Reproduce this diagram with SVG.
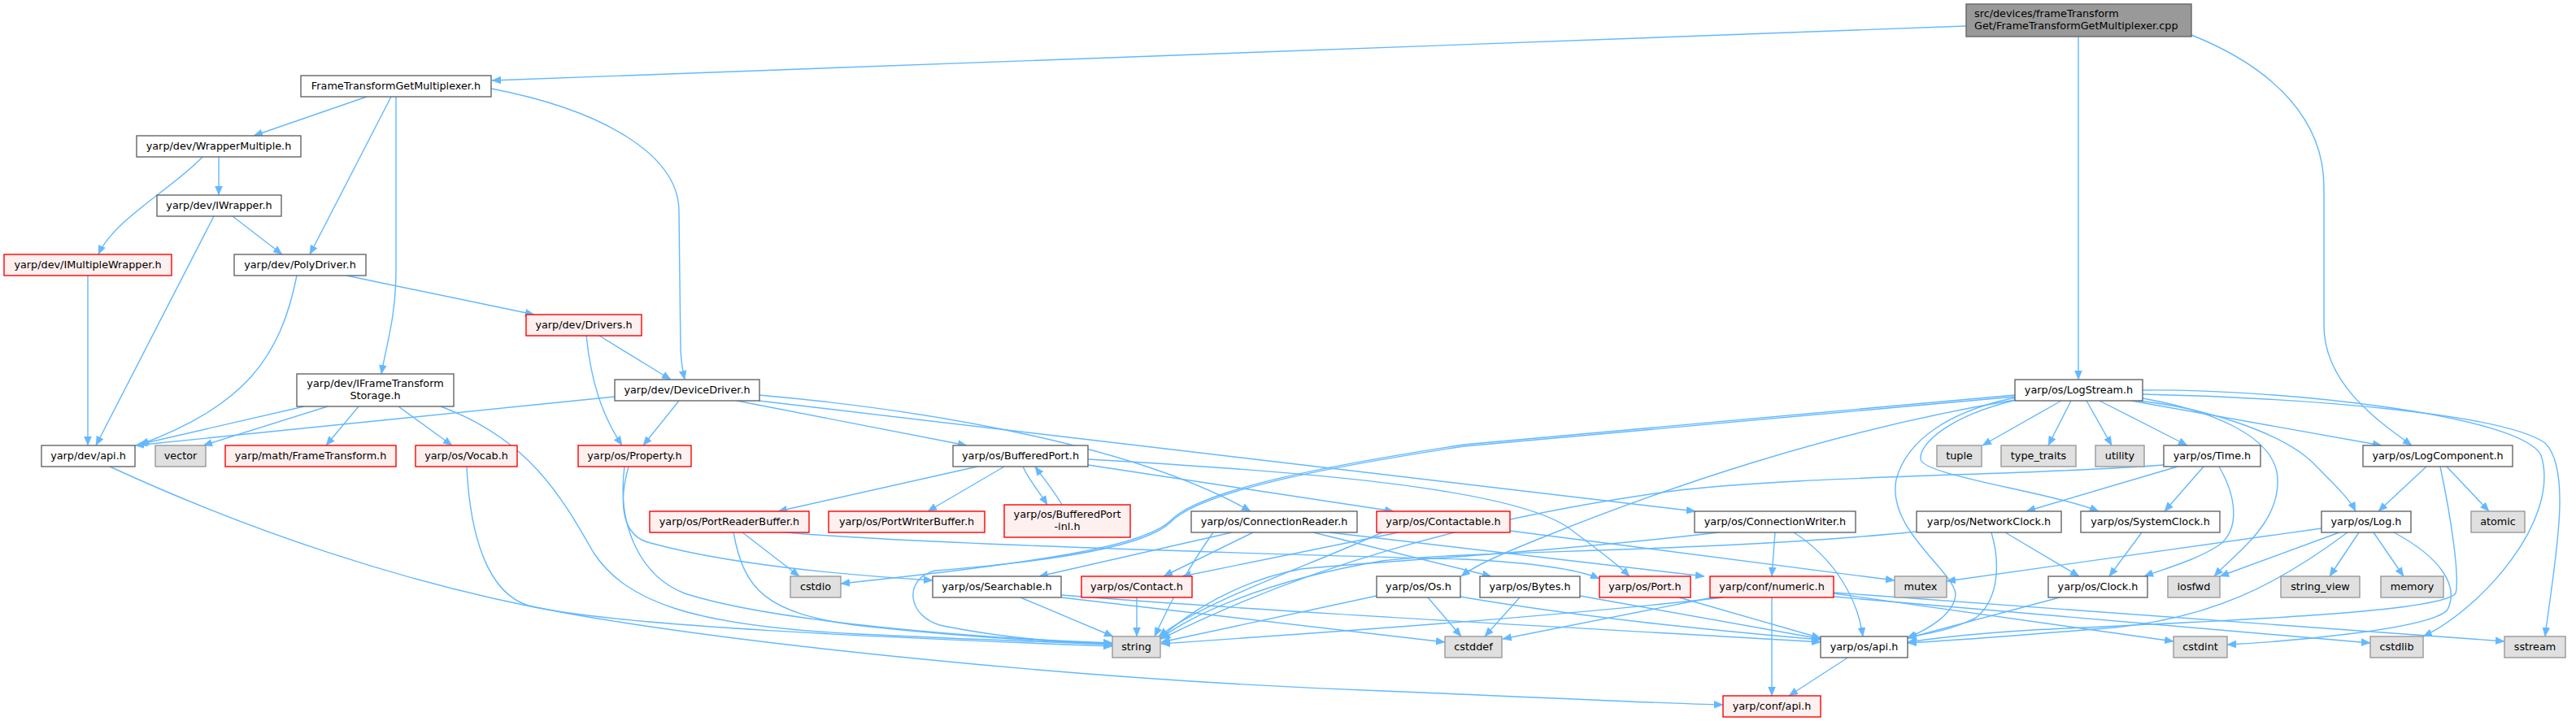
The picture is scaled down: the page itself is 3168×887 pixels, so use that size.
<svg xmlns="http://www.w3.org/2000/svg" width="3168" height="887" viewBox="0 0 3168 887">
<style>
.e{fill:none;stroke:#63b8ff;stroke-width:1.4;marker-end:url(#a)}
.w rect{fill:#ffffff;stroke:#666666;stroke-width:1.4}
.r rect{fill:#fff0f0;stroke:#ff0000;stroke-width:1.4}
.g rect{fill:#e0e0e0;stroke:#999999;stroke-width:1.4}
.root rect{fill:#999999;stroke:#666666;stroke-width:1.4}
text{font-family:"DejaVu Sans","Liberation Sans",sans-serif;font-size:12.8px;fill:#000000;text-anchor:middle}
.root text{text-anchor:start}
</style>
<defs>
<marker id="a" markerUnits="userSpaceOnUse" markerWidth="12" markerHeight="10" refX="11" refY="5" orient="auto">
<path d="M0,0.5 L11,5 L0,9.5 Z" fill="#63b8ff" stroke="#63b8ff" stroke-width="0.5"/>
</marker>
</defs>
<rect width="3168" height="887" fill="#ffffff"/>
<g id="edges">
<path class="e" d="M2418,32 L605,99"/>
<path class="e" d="M2556,45 L2556,467"/>
<path class="e" d="M2695,43 C2800,85 2858,150 2858,230 L2858,400 C2858,470 2920,515 2966,548"/>
<path class="e" d="M451,119 L312,167"/>
<path class="e" d="M481,119 L381,313"/>
<path class="e" d="M487,119 L487,330 C487,390 476,420 469,460"/>
<path class="e" d="M604,109 C740,135 835,190 835,260 L837,430 C838,450 840,458 842,467"/>
<path class="e" d="M269,193 L269,240"/>
<path class="e" d="M249,193 C215,230 140,270 121,313"/>
<path class="e" d="M286,266 L347,313"/>
<path class="e" d="M263,266 L118,548"/>
<path class="e" d="M108,339 L108,548"/>
<path class="e" d="M426,339 L657,387"/>
<path class="e" d="M365,339 C345,440 300,500 172,547"/>
<path class="e" d="M737,413 L825,467"/>
<path class="e" d="M721,413 C727,470 740,510 765,548"/>
<path class="e" d="M374,500 L170,547"/>
<path class="e" d="M403,500 L250,548"/>
<path class="e" d="M441,500 L401,548"/>
<path class="e" d="M490,500 L556,548"/>
<path class="e" d="M542,500 C650,540 690,610 730,680 C770,740 850,770 1056,780 C1200,787 1300,790 1368,793"/>
<path class="e" d="M756,488 L166,548"/>
<path class="e" d="M835,493 L791,548"/>
<path class="e" d="M906,493 L1189,548"/>
<path class="e" d="M933,486 C1150,505 1400,550 1538,629"/>
<path class="e" d="M933,493 L2085,629"/>
<path class="e" d="M574,574 C578,660 600,730 650,745 C750,770 1100,785 1368,795"/>
<path class="e" d="M773,574 C760,620 765,660 800,668 C880,690 1000,705 1147,714"/>
<path class="e" d="M768,574 C758,650 790,710 842,730 C950,765 1200,785 1368,791"/>
<path class="e" d="M135,574 C300,650 500,720 700,755 C900,790 1300,835 1700,850 C1900,858 2050,866 2119,867"/>
<path class="e" d="M1202,574 L957,629"/>
<path class="e" d="M1235,574 L1141,629"/>
<path class="e" d="M1258,574 C1265,590 1278,605 1288,621"/>
<path class="e" d="M1306,621 C1297,605 1283,588 1273,574"/>
<path class="e" d="M1338,565 C1600,580 1860,600 1930,650 C1970,680 1990,695 2004,709"/>
<path class="e" d="M1338,572 L1714,629"/>
<path class="e" d="M913,655 L983,709"/>
<path class="e" d="M902,655 C915,725 940,755 1060,770 C1200,785 1300,790 1368,792"/>
<path class="e" d="M956,654 C1100,668 1500,680 1800,688 C1880,692 1940,700 1967,712"/>
<path class="e" d="M1515,655 L1278,709"/>
<path class="e" d="M1541,655 L1431,709"/>
<path class="e" d="M1615,655 L1834,709"/>
<path class="e" d="M1635,655 L2096,709"/>
<path class="e" d="M1492,655 C1460,700 1440,740 1420,783"/>
<path class="e" d="M1720,655 L1454,709"/>
<path class="e" d="M1857,653 L2330,714"/>
<path class="e" d="M1700,655 C1600,700 1480,740 1425,783"/>
<path class="e" d="M2478,486 L1800,547 C1650,570 1480,600 1440,640 C1410,670 1300,690 1034,718"/>
<path class="e" d="M2478,488 L1800,549 C1650,572 1480,602 1440,642 C1410,672 1300,690 1150,702 C1110,712 1115,760 1160,770 C1250,788 1320,790 1368,792"/>
<path class="e" d="M2478,492 C2250,530 2050,600 1900,660 C1850,680 1815,695 1797,709"/>
<path class="e" d="M2479,489 C2400,505 2345,540 2332,590 C2320,650 2400,700 2405,730 C2405,755 2370,775 2345,785"/>
<path class="e" d="M2484,491 C2400,510 2360,545 2362,565 C2365,585 2520,605 2581,629"/>
<path class="e" d="M2535,493 L2438,548"/>
<path class="e" d="M2547,493 L2519,548"/>
<path class="e" d="M2566,493 L2597,548"/>
<path class="e" d="M2582,493 L2690,548"/>
<path class="e" d="M2621,493 L2929,548"/>
<path class="e" d="M2629,493 C2700,500 2810,530 2850,575 C2875,600 2890,615 2897,629"/>
<path class="e" d="M2635,490 C2720,505 2790,535 2800,580 C2810,640 2750,680 2723,709"/>
<path class="e" d="M2635,480 C2800,478 3100,510 3125,560 C3150,640 3050,750 2980,783"/>
<path class="e" d="M2635,485 C2850,490 3080,510 3130,545 C3165,580 3140,700 3130,783"/>
<path class="e" d="M2678,574 L2492,629"/>
<path class="e" d="M2710,574 L2662,629"/>
<path class="e" d="M2729,574 C2750,610 2755,650 2730,670 C2700,690 2660,700 2637,709"/>
<path class="e" d="M2661,572 C2500,585 2200,585 2050,605 C1800,640 1600,700 1428,786"/>
<path class="e" d="M2984,574 L2925,629"/>
<path class="e" d="M3009,574 L3061,629"/>
<path class="e" d="M3001,574 C3015,640 3025,710 3020,730 C3000,755 2700,765 2500,775 C2420,780 2380,785 2346,790"/>
<path class="e" d="M2855,650 L2394,715"/>
<path class="e" d="M2877,655 L2730,709"/>
<path class="e" d="M2901,655 L2865,709"/>
<path class="e" d="M2919,655 L2956,709"/>
<path class="e" d="M2944,655 C3000,685 3025,720 3010,750 C2990,775 2800,790 2739,793"/>
<path class="e" d="M2887,655 C2800,720 2720,760 2600,772 C2480,782 2400,788 2346,791"/>
<path class="e" d="M2466,655 L2557,709"/>
<path class="e" d="M2449,655 C2462,700 2455,740 2430,760 C2400,775 2370,780 2346,784"/>
<path class="e" d="M2357,654 C2100,680 1800,677 1700,690 C1550,715 1460,760 1427,786"/>
<path class="e" d="M2634,655 L2594,709"/>
<path class="e" d="M2533,735 L2346,785"/>
<path class="e" d="M2183,655 L2179,709"/>
<path class="e" d="M2206,655 C2260,690 2285,740 2291,783"/>
<path class="e" d="M2114,655 C1900,680 1700,690 1600,700 C1520,715 1460,755 1427,785"/>
<path class="e" d="M2179,735 L2179,856"/>
<path class="e" d="M2255,730 L2673,789"/>
<path class="e" d="M2255,734 L2915,791"/>
<path class="e" d="M2255,729 L3080,789"/>
<path class="e" d="M2119,735 C1900,760 1600,780 1428,792"/>
<path class="e" d="M2106,735 L1848,786"/>
<path class="e" d="M1255,735 L1369,783"/>
<path class="e" d="M1305,735 L1777,790"/>
<path class="e" d="M1305,732 C1600,755 1900,770 2239,790"/>
<path class="e" d="M1398,735 L1398,783"/>
<path class="e" d="M1693,733 L1428,790"/>
<path class="e" d="M1756,735 L1797,783"/>
<path class="e" d="M1795,734 C1950,760 2100,775 2239,787"/>
<path class="e" d="M1869,735 L1826,783"/>
<path class="e" d="M1943,733 L2239,786"/>
<path class="e" d="M2065,735 L2239,785"/>
<path class="e" d="M2274,808 L2200,856"/>
</g>
<g id="n_root" class="root"><rect x="2418" y="5" width="277" height="40"/><text x="2428" y="21">src/devices/frameTransform</text><text x="2428" y="36">Get/FrameTransformGetMultiplexer.cpp</text></g>
<g id="n_ftgm" class="w"><rect x="370" y="93" width="234" height="26"/><text x="487" y="110">FrameTransformGetMultiplexer.h</text></g>
<g id="n_wrappermultiple" class="w"><rect x="168" y="167" width="202" height="26"/><text x="269" y="184">yarp/dev/WrapperMultiple.h</text></g>
<g id="n_iwrapper" class="w"><rect x="193" y="240" width="153" height="26"/><text x="269.5" y="257">yarp/dev/IWrapper.h</text></g>
<g id="n_imultiplewrapper" class="r"><rect x="5" y="313" width="206" height="26"/><text x="108" y="330">yarp/dev/IMultipleWrapper.h</text></g>
<g id="n_polydriver" class="w"><rect x="288" y="313" width="162" height="26"/><text x="369" y="330">yarp/dev/PolyDriver.h</text></g>
<g id="n_drivers" class="r"><rect x="647" y="387" width="142" height="26"/><text x="718" y="404">yarp/dev/Drivers.h</text></g>
<g id="n_iframetransformstorage" class="w"><rect x="365" y="460" width="193" height="40"/><text x="461.5" y="476">yarp/dev/IFrameTransform</text><text x="461.5" y="491">Storage.h</text></g>
<g id="n_devicedriver" class="w"><rect x="756" y="467" width="178" height="26"/><text x="845" y="484">yarp/dev/DeviceDriver.h</text></g>
<g id="n_devapi" class="w"><rect x="51" y="548" width="115" height="26"/><text x="108.5" y="565">yarp/dev/api.h</text></g>
<g id="n_vector" class="g"><rect x="191" y="548" width="62" height="26"/><text x="222" y="565">vector</text></g>
<g id="n_frametransform" class="r"><rect x="277" y="548" width="210" height="26"/><text x="382" y="565">yarp/math/FrameTransform.h</text></g>
<g id="n_vocab" class="r"><rect x="511" y="548" width="125" height="26"/><text x="573.5" y="565">yarp/os/Vocab.h</text></g>
<g id="n_property" class="r"><rect x="711" y="548" width="139" height="26"/><text x="780.5" y="565">yarp/os/Property.h</text></g>
<g id="n_bufferedport" class="w"><rect x="1172" y="548" width="166" height="26"/><text x="1255" y="565">yarp/os/BufferedPort.h</text></g>
<g id="n_logstream" class="w"><rect x="2478" y="467" width="157" height="26"/><text x="2556.5" y="484">yarp/os/LogStream.h</text></g>
<g id="n_tuple" class="g"><rect x="2382" y="548" width="55" height="26"/><text x="2409.5" y="565">tuple</text></g>
<g id="n_type_traits" class="g"><rect x="2461" y="548" width="92" height="26"/><text x="2507" y="565">type_traits</text></g>
<g id="n_utility" class="g"><rect x="2577" y="548" width="60" height="26"/><text x="2607" y="565">utility</text></g>
<g id="n_time" class="w"><rect x="2661" y="548" width="119" height="26"/><text x="2720.5" y="565">yarp/os/Time.h</text></g>
<g id="n_logcomponent" class="w"><rect x="2906" y="548" width="184" height="26"/><text x="2998" y="565">yarp/os/LogComponent.h</text></g>
<g id="n_portreaderbuffer" class="r"><rect x="799" y="629" width="196" height="26"/><text x="897" y="646">yarp/os/PortReaderBuffer.h</text></g>
<g id="n_portwriterbuffer" class="r"><rect x="1019" y="629" width="192" height="26"/><text x="1115" y="646">yarp/os/PortWriterBuffer.h</text></g>
<g id="n_bufferedportinl" class="r"><rect x="1235" y="621" width="155" height="40"/><text x="1312.5" y="637">yarp/os/BufferedPort</text><text x="1312.5" y="652">-inl.h</text></g>
<g id="n_connectionreader" class="w"><rect x="1465" y="629" width="204" height="26"/><text x="1567" y="646">yarp/os/ConnectionReader.h</text></g>
<g id="n_contactable" class="r"><rect x="1693" y="629" width="164" height="26"/><text x="1775" y="646">yarp/os/Contactable.h</text></g>
<g id="n_connectionwriter" class="w"><rect x="2084" y="629" width="198" height="26"/><text x="2183" y="646">yarp/os/ConnectionWriter.h</text></g>
<g id="n_networkclock" class="w"><rect x="2357" y="629" width="178" height="26"/><text x="2446" y="646">yarp/os/NetworkClock.h</text></g>
<g id="n_systemclock" class="w"><rect x="2559" y="629" width="171" height="26"/><text x="2644.5" y="646">yarp/os/SystemClock.h</text></g>
<g id="n_log" class="w"><rect x="2855" y="629" width="110" height="26"/><text x="2910" y="646">yarp/os/Log.h</text></g>
<g id="n_atomic" class="g"><rect x="3039" y="629" width="66" height="26"/><text x="3072" y="646">atomic</text></g>
<g id="n_cstdio" class="g"><rect x="972" y="709" width="62" height="26"/><text x="1003" y="726">cstdio</text></g>
<g id="n_searchable" class="w"><rect x="1147" y="709" width="158" height="26"/><text x="1226" y="726">yarp/os/Searchable.h</text></g>
<g id="n_contact" class="r"><rect x="1330" y="709" width="136" height="26"/><text x="1398" y="726">yarp/os/Contact.h</text></g>
<g id="n_os" class="w"><rect x="1693" y="709" width="103" height="26"/><text x="1744.5" y="726">yarp/os/Os.h</text></g>
<g id="n_bytes" class="w"><rect x="1820" y="709" width="123" height="26"/><text x="1881.5" y="726">yarp/os/Bytes.h</text></g>
<g id="n_port" class="r"><rect x="1967" y="709" width="112" height="26"/><text x="2023" y="726">yarp/os/Port.h</text></g>
<g id="n_numeric" class="r"><rect x="2103" y="709" width="152" height="26"/><text x="2179" y="726">yarp/conf/numeric.h</text></g>
<g id="n_mutex" class="g"><rect x="2330" y="709" width="64" height="26"/><text x="2362" y="726">mutex</text></g>
<g id="n_clock" class="w"><rect x="2519" y="709" width="122" height="26"/><text x="2580" y="726">yarp/os/Clock.h</text></g>
<g id="n_iosfwd" class="g"><rect x="2666" y="709" width="64" height="26"/><text x="2698" y="726">iosfwd</text></g>
<g id="n_string_view" class="g"><rect x="2805" y="709" width="97" height="26"/><text x="2853.5" y="726">string_view</text></g>
<g id="n_memory" class="g"><rect x="2928" y="709" width="77" height="26"/><text x="2966.5" y="726">memory</text></g>
<g id="n_string" class="g"><rect x="1368" y="783" width="59" height="26"/><text x="1397.5" y="800">string</text></g>
<g id="n_cstddef" class="g"><rect x="1777" y="783" width="70" height="26"/><text x="1812" y="800">cstddef</text></g>
<g id="n_osapi" class="w"><rect x="2239" y="783" width="107" height="26"/><text x="2292.5" y="800">yarp/os/api.h</text></g>
<g id="n_cstdint" class="g"><rect x="2673" y="783" width="66" height="26"/><text x="2706" y="800">cstdint</text></g>
<g id="n_cstdlib" class="g"><rect x="2915" y="783" width="65" height="26"/><text x="2947.5" y="800">cstdlib</text></g>
<g id="n_sstream" class="g"><rect x="3080" y="783" width="75" height="26"/><text x="3117.5" y="800">sstream</text></g>
<g id="n_confapi" class="r"><rect x="2119" y="856" width="120" height="26"/><text x="2179" y="873">yarp/conf/api.h</text></g>
</svg>
